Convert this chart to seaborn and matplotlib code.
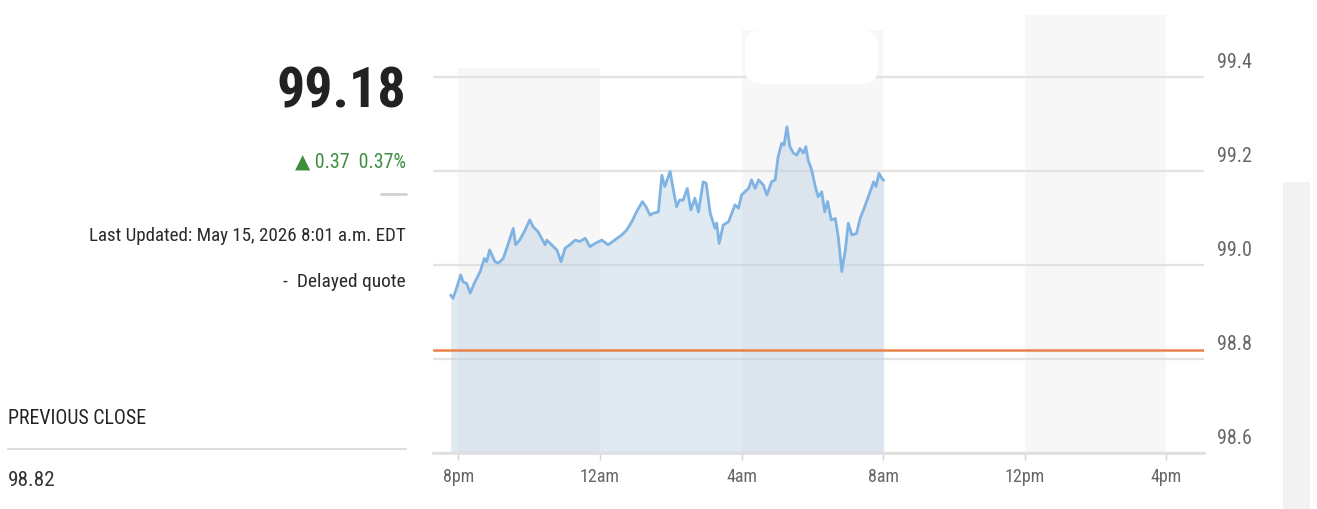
import matplotlib
matplotlib.use("Agg")
import matplotlib.pyplot as plt
import matplotlib.transforms as mtransforms
from matplotlib import font_manager as fm
from matplotlib.patches import Rectangle, FancyBboxPatch
import seaborn as sns
import pandas as pd
import numpy as np

# ---------------- data ----------------
times = ["19:47", "19:51", "19:57", "20:04", "20:08", "20:14", "20:20", "20:28", "20:37", "20:44",
         "20:48", "20:53", "21:02", "21:08", "21:16", "21:24", "21:33", "21:37", "21:44", "21:53",
         "22:01", "22:07", "22:15", "22:27", "22:30", "22:38", "22:47", "22:54", "23:01", "23:09",
         "23:18", "23:26", "23:35", "23:43", "23:52", "00:03", "00:14", "00:25", "00:37", "00:45",
         "00:54", "01:02", "01:12", "01:18", "01:25", "01:30", "01:39", "01:45", "01:50", "01:59",
         "02:04", "02:10", "02:15", "02:21", "02:28", "02:34", "02:41", "02:47", "02:55", "03:00",
         "03:07", "03:15", "03:18", "03:22", "03:29", "03:38", "03:49", "03:55", "04:00", "04:12",
         "04:17", "04:23", "04:29", "04:37", "04:43", "04:51", "04:57", "05:02", "05:08", "05:12",
         "05:17", "05:22", "05:28", "05:34", "05:39", "05:45", "05:49", "05:53", "05:59", "06:05",
         "06:10", "06:16", "06:21", "06:26", "06:32", "06:39", "06:44", "06:50", "06:56", "07:01",
         "07:07", "07:15", "07:21", "07:30", "07:38", "07:44", "07:48", "07:53", "07:58", "08:01"]
prices = [98.936, 98.929, 98.951, 98.979, 98.964, 98.961, 98.940, 98.964, 98.986, 99.014,
          99.007, 99.032, 99.007, 99.004, 99.014, 99.043, 99.078, 99.043, 99.053, 99.074,
          99.096, 99.081, 99.071, 99.043, 99.053, 99.043, 99.032, 99.007, 99.036, 99.043,
          99.053, 99.050, 99.057, 99.039, 99.046, 99.053, 99.043, 99.053, 99.064, 99.074,
          99.092, 99.113, 99.135, 99.124, 99.106, 99.110, 99.113, 99.191, 99.167, 99.199,
          99.163, 99.124, 99.138, 99.138, 99.163, 99.117, 99.142, 99.113, 99.177, 99.174,
          99.110, 99.078, 99.089, 99.046, 99.085, 99.092, 99.128, 99.121, 99.149, 99.163,
          99.181, 99.163, 99.181, 99.170, 99.149, 99.177, 99.181, 99.230, 99.259, 99.255,
          99.294, 99.252, 99.238, 99.234, 99.248, 99.238, 99.252, 99.223, 99.202, 99.167,
          99.145, 99.156, 99.113, 99.135, 99.096, 99.099, 99.060, 98.986, 99.032, 99.089,
          99.064, 99.067, 99.099, 99.128, 99.156, 99.177, 99.167, 99.195, 99.184, 99.180]
previous_close = 98.82
last_price = "99.18"
change_text = "0.37  0.37%"
updated_text = "Last Updated: May 15, 2026 8:01 a.m. EDT"
delayed_text = "-  Delayed quote"
prev_close_label = "PREVIOUS CLOSE"
prev_close_text = "98.82"
tick_times = ["2026-05-14 20:00", "2026-05-15 00:00", "2026-05-15 04:00",
              "2026-05-15 08:00", "2026-05-15 12:00", "2026-05-15 16:00"]
tick_labels = ["8pm", "12am", "4am", "8am", "12pm", "4pm"]
y_ticks = [98.6, 98.8, 99.0, 99.2, 99.4]
y_tick_labels = ["98.6", "98.8", "99.0", "99.2", "99.4"]
band_starts = ["2026-05-14 20:00", "2026-05-15 04:00", "2026-05-15 12:00"]
band_ends = ["2026-05-15 00:00", "2026-05-15 08:00", "2026-05-15 16:00"]

# ---------------- build frame ----------------
def to_ts(s):
    h = int(s.split(":")[0])
    day = "2026-05-14" if h >= 12 else "2026-05-15"
    return pd.Timestamp(f"{day} {s}")

df = pd.DataFrame({"time": [to_ts(t) for t in times], "price": prices})

# ---------------- style ----------------
sns.set_theme(style="white")
names = {f.name for f in fm.fontManager.ttflist}
NARROW = None
for cand in ["Roboto Condensed", "Liberation Sans Narrow", "Open Sans Condensed"]:
    if cand in names:
        NARROW = cand
        break
FAM = [NARROW, "DejaVu Sans"] if NARROW else ["DejaVu Sans"]
plt.rcParams["font.family"] = FAM

W, H = 1317, 509
fig = plt.figure(figsize=(W / 100, H / 100), dpi=100)
fig.patch.set_facecolor("white")

ax_left, ax_right, ax_bot, ax_top = 433, 1204, 453, 30
ax = fig.add_axes([ax_left / W, 1 - ax_bot / H, (ax_right - ax_left) / W, (ax_bot - ax_top) / H])
ax.set_facecolor("white")

ax.set_ylim(98.6, 99.5)
ax.set_xlim(pd.Timestamp("2026-05-14 19:17"), pd.Timestamp("2026-05-15 17:04"))

# shaded session bands
band_tops = [(99.419 - 98.6) / 0.9, 1.0, (453 - 15) / (453 - 30)]
for s, e, top in zip(band_starts, band_ends, band_tops):
    ax.axvspan(pd.Timestamp(s), pd.Timestamp(e), ymin=0, ymax=top, color="#f7f7f7",
               lw=0, zorder=0, clip_on=False)

# gridlines
ax.set_yticks(y_ticks)
ax.set_yticklabels(y_tick_labels)
ax.yaxis.grid(True, color="#e2e2e2", lw=1.6, zorder=0.5)
ax.xaxis.grid(False)
ax.set_axisbelow(True)

# area + line
ax.fill_between(df["time"], df["price"], 98.6, color="#b7cde0", alpha=0.42, lw=0, zorder=1)
sns.lineplot(data=df, x="time", y="price", ax=ax, color="#7fb3e3", linewidth=2.0, zorder=2)
ax.axhline(previous_close, color="#e8824a", lw=1.8, zorder=3)

# axes styling
for sp in ["left", "right", "top"]:
    ax.spines[sp].set_visible(False)
ax.spines["bottom"].set_color("#e0e0e0")
ax.spines["bottom"].set_linewidth(2)
ax.set_xlabel("")
ax.set_ylabel("")

ax.set_xticks([pd.Timestamp(t) for t in tick_times])
ax.set_xticklabels(tick_labels)
ax.tick_params(axis="x", length=5, width=1, color="#c9d5e2", pad=6, labelsize=13,
               labelcolor="#666666", bottom=True)
ax.yaxis.tick_right()
ax.tick_params(axis="y", length=0, labelsize=14.5, labelcolor="#666666", pad=9.5)
off = mtransforms.ScaledTranslation(0, 14 / 100, fig.dpi_scale_trans)
for lab in ax.get_yticklabels():
    lab.set_transform(lab.get_transform() + off)
    lab.set_verticalalignment("center")

# white tooltip-like blob at top
blob = FancyBboxPatch((745, H - 84), 133, 54, boxstyle="round,pad=0,rounding_size=16",
                      transform=mtransforms.IdentityTransform(), facecolor="white",
                      edgecolor="none", zorder=5)
fig.add_artist(blob)

# right grey panel
fig.add_artist(Rectangle((1283 / W, 0), 27 / W, (H - 182) / H, transform=fig.transFigure,
                         facecolor="#f2f2f2", edgecolor="none"))

# ---------------- left text block ----------------
renderer = fig.canvas.get_renderer()

def fit_text(x_px, y_px, s, width_px, ha="right", color="#222222", weight="normal", family=None):
    t = fig.text(x_px / W, 1 - y_px / H, s, ha=ha, va="center", fontsize=10,
                 color=color, fontweight=weight, family=family or FAM)
    bb = t.get_window_extent(renderer)
    t.set_fontsize(10 * width_px / bb.width)
    return t

fit_text(406, 92, last_price, 130, weight="bold", color="#222222")
fit_text(406, 162, "\u25B2 " + change_text, 110, color="#3d8f3d")
fig.add_artist(plt.Line2D([381 / W, 406 / W], [1 - 194 / H, 1 - 194 / H], color="#d0d0d0", lw=2))
fit_text(406, 236, updated_text, 314, color="#2a2a2a")
fit_text(406, 282, delayed_text, 122, color="#2a2a2a")
fit_text(8, 418, prev_close_label, 138, ha="left", color="#222222")
fig.add_artist(plt.Line2D([8 / W, 406 / W], [1 - 449 / H, 1 - 449 / H], color="#dedede", lw=1.5))
fit_text(8, 480, prev_close_text, 47, ha="left", color="#333333")

fig.savefig("out.png", dpi=100, facecolor="white")
